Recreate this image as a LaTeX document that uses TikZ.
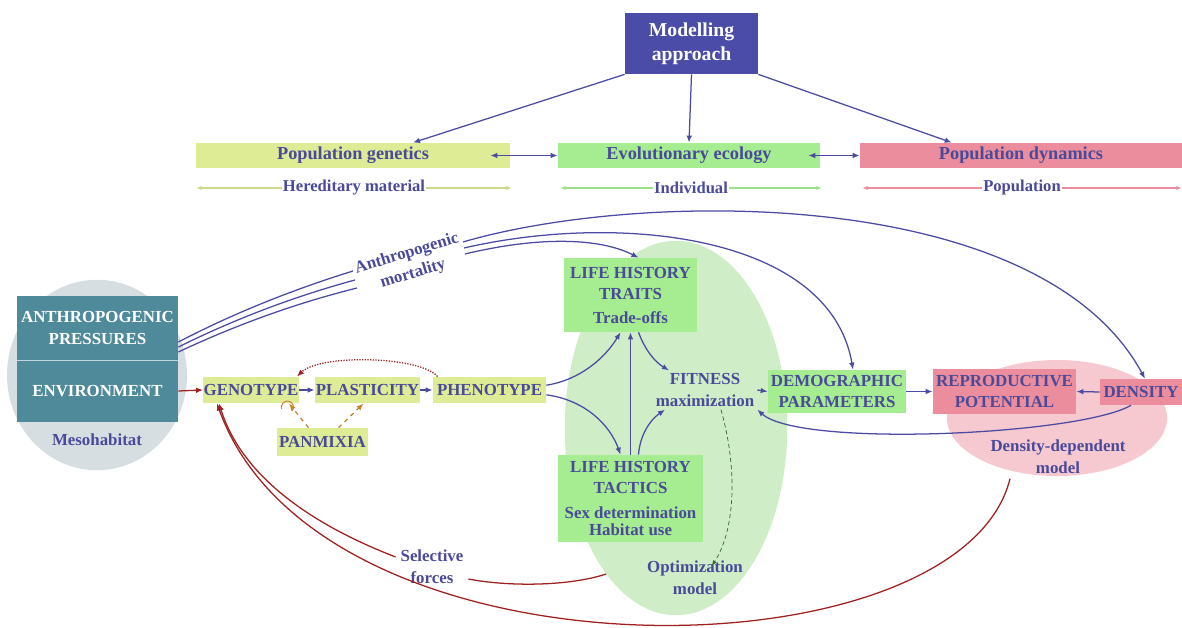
\documentclass[tikz,border=0pt]{standalone}
\usepackage{fontspec}
\setmainfont{Liberation Serif}
\usetikzlibrary{arrows.meta}
\definecolor{txtblue}{HTML}{4A4A9A}
\definecolor{arrblue}{HTML}{4B4BA3}
\definecolor{purplebox}{HTML}{4B4BA8}
\definecolor{ygreen}{HTML}{DFEC96}
\definecolor{lgreen}{HTML}{A6EC90}
\definecolor{pinkbox}{HTML}{EB8D9D}
\definecolor{tealbox}{HTML}{4F8A9B}
\definecolor{mesogray}{HTML}{D7DEE2}
\definecolor{lgreenbg}{HTML}{CFEDC7}
\definecolor{lpinkbg}{HTML}{F6C8D0}
\definecolor{darkred}{HTML}{A02020}
\definecolor{panorange}{HTML}{C4842E}
\definecolor{optgreen}{HTML}{2E6B2E}
\tikzstyle{every node}=[font=\bfseries\fontsize{12}{15.5}\selectfont, text=txtblue, align=center]
\tikzstyle{block}=[rectangle, inner sep=0pt]
\tikzstyle{yblock}=[block, fill=ygreen]
\tikzstyle{gblock}=[block, fill=lgreen]
\tikzstyle{pblock}=[block, fill=pinkbox]
\tikzstyle{tblock}=[block, fill=tealbox, text=white, minimum width=4.03cm]
\tikzstyle{head}=[minimum height=0.63cm, font=\bfseries\fontsize{13}{15}\selectfont]
\tikzstyle{sub}=[fill=white, inner sep=1pt, font=\bfseries\fontsize{11.8}{13}\selectfont]
\tikzstyle{link}=[draw=arrblue, line width=0.9pt, ->]
\tikzstyle{redlink}=[draw=darkred, line width=0.9pt, ->]
\tikzstyle{panlink}=[draw=panorange, line width=0.9pt, dashed, ->]
\tikzstyle{mortline}=[draw=arrblue, line width=0.9pt]
\tikzstyle{scaleline}=[line width=0.8pt, <->, >={Latex[length=4pt,width=3pt]}]

\begin{document}
\begin{tikzpicture}[x=0.025cm,y=-0.025cm,>={Latex[length=5pt,width=4pt]}]
  \useasboundingbox (0,0) rectangle (1182,628);

  % background areas
  \fill[mesogray] (97,375) ellipse [x radius=2.25cm, y radius=2.38cm];
  \fill[lgreenbg] (676,428) ellipse [x radius=2.78cm, y radius=4.68cm];
  \fill[lpinkbg] (1057,418) ellipse [x radius=2.75cm, y radius=1.45cm];

  % modelling approaches
  \node[block, fill=purplebox, text=white, minimum width=3.33cm, minimum height=1.53cm,
        font=\bfseries\fontsize{14}{17}\selectfont] (model) at (691.5,43.5) {Modelling\\approach};
  \node[yblock, head, minimum width=7.85cm] (popgen) at (353,155.5) {Population genetics};
  \node[gblock, head, minimum width=6.55cm] (evoeco) at (689,155.5) {Evolutionary ecology};
  \node[pblock, head, minimum width=8.05cm] (popdyn) at (1021,155.5) {Population dynamics};
  \draw[link] (model.south west) -- ([xshift=1.5cm]popgen.north);
  \draw[link] (model.south) -- (evoeco.north);
  \draw[link] (model.south east) -- ([xshift=-1.73cm]popdyn.north);
  \draw[link,<->] ([xshift=-0.5cm]popgen.east) -- (evoeco.west);
  \draw[link,<->] ([xshift=-0.3cm]evoeco.east) -- (popdyn.west);

  % scales
  \coordinate (hl) at (196,188); \coordinate (hr) at (512,188);
  \coordinate (il) at (560,188); \coordinate (ir) at (822,188);
  \coordinate (pl) at (862,188); \coordinate (pr) at (1182,188);
  \draw[scaleline, draw=ygreen!92!black] (hl) -- (hr) node[sub, midway] (hered) {Hereditary material};
  \draw[scaleline, draw=lgreen!95!black] (il) -- (ir) node[sub, midway] (indiv) {Individual};
  \draw[scaleline, draw=pinkbox] (pl) -- (pr) node[sub, midway] (popul) {Population};

  % mesohabitat
  \node[tblock, minimum height=1.6cm] (ap) at (97.5,328) {ANTHROPOGENIC\\PRESSURES};
  \node[tblock, minimum height=1.55cm] (env) at (97.5,391) {ENVIRONMENT};
  \draw[white!65!tealbox, line width=0.8pt] (ap.south west) -- (ap.south east);
  \node (meso) at (97,440) {Mesohabitat};

  % genetic chain
  \node[yblock, minimum width=2.38cm, minimum height=0.66cm] (geno) at (251,390) {GENOTYPE};
  \node[yblock, minimum width=2.63cm, minimum height=0.66cm] (plast) at (367.5,390) {PLASTICITY};
  \node[yblock, minimum width=2.83cm, minimum height=0.66cm] (pheno) at (489.5,390) {PHENOTYPE};
  \node[yblock, minimum width=2.28cm, minimum height=0.7cm] (panm) at (322.5,442) {PANMIXIA};
  \draw[redlink] (env.east) -- (geno.west);
  \draw[link] (geno.east) -- (plast.west);
  \draw[link] (plast.east) -- (pheno.west);
  \draw[redlink, densely dotted] ([xshift=-1.3cm]pheno.north) .. controls (420,356) and (320,354) .. ([xshift=1.15cm]geno.north);
  \draw[panlink] ([xshift=-0.35cm]panm.north) -- ([xshift=0.95cm]geno.south);
  \draw[panlink] ([xshift=0.4cm]panm.north) -- ([xshift=-0.1cm]plast.south);
  \draw[panorange, line width=0.7pt] (292,411) arc[start angle=-40, end angle=200, radius=0.15cm];

  % evolutionary ecology
  \node[gblock, minimum width=3.33cm, minimum height=1.85cm] (lht) at (630.5,295)
       {LIFE HISTORY\\TRAITS\\[1pt]Trade-offs};
  \node[gblock, minimum width=3.63cm, minimum height=2.18cm, font=\bfseries\fontsize{12}{15}\selectfont] (lhtac) at (630.5,498.5)
       {LIFE HISTORY\\TACTICS\\[3pt]Sex determination\\[-3pt]Habitat use};
  \node[inner sep=2pt] (fit) at (705,390) {FITNESS\\maximization};
  \node[gblock, minimum width=3.45cm, minimum height=1.08cm] (demo) at (837,391.5) {DEMOGRAPHIC\\PARAMETERS};
  \node (opt) at (695,578) {Optimization\\model};
  \draw[link] ([yshift=0.12cm]pheno.east) .. controls (580,380) and (605,358) .. ([xshift=-0.25cm]lht.south);
  \draw[link] ([yshift=-0.12cm]pheno.east) .. controls (585,400) and (610,425) .. ([xshift=-0.25cm]lhtac.north);
  \draw[link] (lhtac.north) -- (lht.south);
  \draw[link] ([xshift=0.2cm]lht.south) .. controls (645,350) and (655,362) .. ([xshift=-0.9cm]fit.north);
  \draw[link] ([xshift=0.2cm]lhtac.north) .. controls (640,435) and (650,420) .. ([xshift=-1cm]fit.south);
  \draw[link] (fit.east) -- (demo.west);
  \draw[draw=optgreen, line width=0.5pt, densely dashed, ->, >={Latex[length=4pt,width=3pt]}]
       ([xshift=0.4cm]fit.south) .. controls (738,470) and (735,530) .. ([xshift=0.42cm,yshift=0.3cm]opt.center);

  % population dynamics
  \node[pblock, minimum width=3.58cm, minimum height=1.13cm] (repro) at (1004.5,391.5) {REPRODUCTIVE\\POTENTIAL};
  \node[pblock, minimum width=2.05cm, minimum height=0.65cm] (dens) at (1141,392) {DENSITY};
  \node (ddm) at (1058,457) {Density-dependent\\model};
  \draw[link] (demo.east) -- (repro.west);
  \draw[link] (dens.west) -- (repro.east);
  \draw[link] ([xshift=-0.25cm]dens.south) .. controls (1080,435) and (800,448) .. (fit.south east);

  % anthropogenic mortality
  \node[rotate=17, font=\bfseries\fontsize{12}{15}\selectfont] (mort) at (410,264) {Anthropogenic\\mortality};
  \coordinate (m1a) at (353,271); \coordinate (m2a) at (355,280); \coordinate (m3a) at (357,288);
  \coordinate (m1b) at (463,242); \coordinate (m2b) at (464,248); \coordinate (m3b) at (465,254);
  \draw[mortline] ([yshift=-0.35cm]ap.east) .. controls (236,312) and (295,289) .. (m1a);
  \draw[mortline] ([yshift=-0.475cm]ap.east) .. controls (237,318) and (296,296) .. (m2a);
  \draw[mortline] ([yshift=-0.6cm]ap.east) .. controls (238,324) and (297,303) .. (m3a);
  \draw[link] (m1b) .. controls (640,190) and (1040,185) .. ([xshift=0.1cm]dens.north);
  \draw[link] (m2b) .. controls (620,212) and (830,235) .. ([xshift=0.4cm]demo.north);
  \draw[link] (m3b) .. controls (540,236) and (600,238) .. ([xshift=0.2cm]lht.north);

  % selective forces
  \node (sel) at (432,567) {Selective\\forces};
  \draw[draw=darkred, line width=0.9pt] ([xshift=-0.9cm,yshift=0.1cm]opt.west) .. controls (570,586) and (510,587) .. ([yshift=-0.3cm]sel.east);
  \draw[redlink] ([yshift=0.25cm]sel.west) .. controls (300,520) and (240,470) .. ([xshift=-0.8cm]geno.south);
  \draw[redlink] ([xshift=-1.2cm]ddm.south) .. controls (960,680) and (320,690) .. ([xshift=-0.85cm]geno.south);
\end{tikzpicture}
\end{document}
